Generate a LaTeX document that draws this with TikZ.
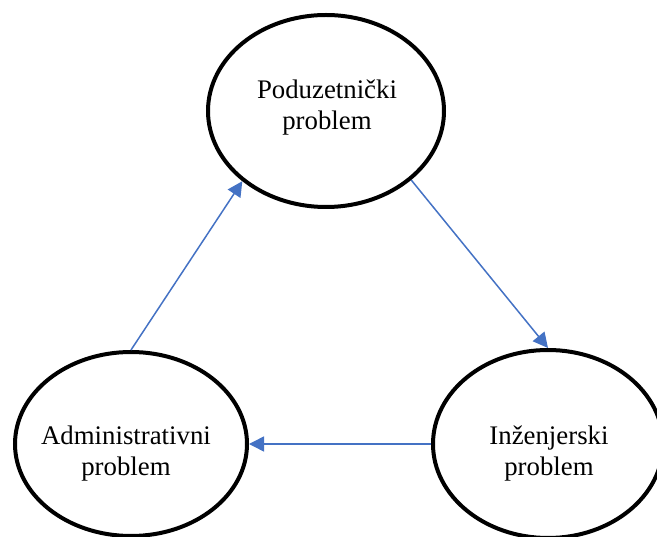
\documentclass[tikz,border=0pt]{standalone}
\usepackage{fontspec}
\setmainfont{Liberation Serif}
\usetikzlibrary{shapes.geometric,arrows.meta}
\definecolor{arrowblue}{RGB}{68,114,196}
\tikzset{
  bubble/.style={ellipse, draw=black, line width=4pt, fill=white, inner sep=0pt},
  label text/.style={anchor=north, inner sep=0pt, align=center, font=\fontsize{26.8}{31}\selectfont},
  flow/.style={draw=arrowblue, line width=1.5pt, -{Triangle[length=15pt,width=15pt]}}
}
\begin{document}
\begin{tikzpicture}[x=1pt,y=-1pt]
\useasboundingbox (0,0) rectangle (657,537);
\clip (0,0) rectangle (657,537);
\node[bubble, minimum width=236pt, minimum height=192pt] (T) at (326,111) {};
\node[bubble, minimum width=232pt, minimum height=184pt] (L) at (131,444) {};
\node[bubble, minimum width=230pt, minimum height=188pt] (R) at (548,444) {};
\node[label text] (tT) at (327,79.7) {Poduzetnički\\problem};
\node[label text] (tL) at (126,425.7) {Administrativni\\problem};
\node[label text] (tR) at (549,425.7) {Inženjerski\\problem};
\draw[flow] (L.north) -- (T.220);
\draw[flow] (T.-39) -- (R.north);
\draw[flow] (R.west) -- (L.east);
\end{tikzpicture}
\end{document}
